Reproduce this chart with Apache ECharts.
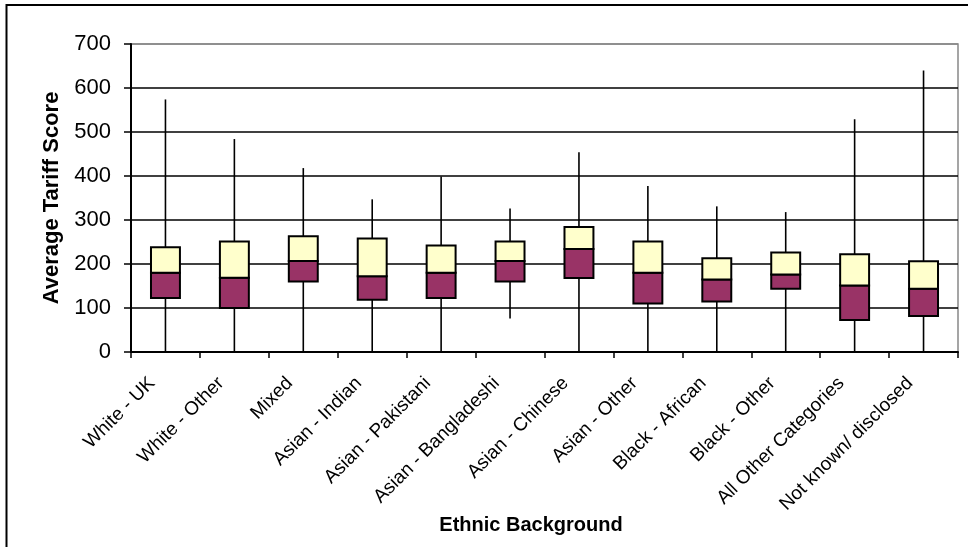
<!DOCTYPE html>
<html>
<head>
<meta charset="utf-8">
<script src="https://cdn.jsdelivr.net/npm/echarts@6/dist/echarts.min.js"></script>
<style>
html,body{margin:0;padding:0;background:#fff;}
#chart{width:968px;height:547px;}
</style>
</head>
<body>
<div id="chart"></div>
<script>
const categories = ['White - UK','White - Other','Mixed','Asian - Indian','Asian - Pakistani','Asian - Bangladeshi','Asian - Chinese','Asian - Other','Black - African','Black - Other','All Other Categories','Not known/ disclosed'];
const minVals    = [0, 0, 0, 0, 0, 76, 0, 0, 0, 0, 0, 0];
const q1Vals     = [123, 100, 160, 119, 123, 160, 168, 110, 115, 144, 73, 82];
const medianVals = [180, 169, 207, 172, 180, 207, 234, 180, 165, 176, 151, 144];
const q3Vals     = [238, 251, 263, 258, 242, 251, 284, 251, 213, 226, 222, 206];
const maxVals    = [574, 484, 418, 347, 399, 326, 454, 377, 331, 318, 529, 640];
const yTicks     = [0, 100, 200, 300, 400, 500, 600, 700];

const FONT = '"Liberation Sans", Arial, sans-serif';
const data = categories.map((c, i) => [i, minVals[i], q1Vals[i], medianVals[i], q3Vals[i], maxVals[i]]);

function renderItem(params, api) {
  const x = api.value(0);
  const pMin = api.coord([x, api.value(1)]);
  const pQ1 = api.coord([x, api.value(2)]);
  const pMed = api.coord([x, api.value(3)]);
  const pQ3 = api.coord([x, api.value(4)]);
  const pMax = api.coord([x, api.value(5)]);
  const w = api.size([1, 0])[0] * 0.42;
  return {
    type: 'group',
    children: [
      { type: 'line', shape: { x1: pMin[0], y1: pMin[1], x2: pMax[0], y2: pMax[1] },
        style: { stroke: '#000', lineWidth: 1.6 } },
      { type: 'rect', shape: { x: pQ1[0] - w / 2, y: pMed[1], width: w, height: pQ1[1] - pMed[1] },
        style: { fill: '#993366', stroke: '#000', lineWidth: 2 } },
      { type: 'rect', shape: { x: pQ3[0] - w / 2, y: pQ3[1], width: w, height: pMed[1] - pQ3[1] },
        style: { fill: '#FFFFCC', stroke: '#000', lineWidth: 2 } }
    ]
  };
}

const chart = echarts.init(document.getElementById('chart'));
chart.setOption({
  animation: false,
  backgroundColor: '#fff',
  grid: { left: 131, right: 10, top: 44, bottom: 195, show: true, borderColor: '#888', borderWidth: 1.5 },
  xAxis: {
    type: 'category',
    data: categories,
    boundaryGap: true,
    axisLine: { lineStyle: { color: '#000', width: 2 } },
    axisTick: { show: true, alignWithLabel: false, length: 6, lineStyle: { color: '#000', width: 1.5 } },
    axisLabel: { interval: 0, rotate: 45, fontSize: 19, color: '#000', fontFamily: FONT, margin: 15, padding: [0, 19, 0, 0] },
    splitLine: { show: false }
  },
  yAxis: {
    type: 'value',
    min: yTicks[0],
    max: yTicks[yTicks.length - 1],
    interval: 100,
    name: 'Average Tariff Score',
    nameLocation: 'middle',
    nameRotate: 90,
    nameGap: 67,
    nameTextStyle: { fontSize: 22, fontWeight: 'bold', color: '#000', fontFamily: FONT },
    axisLine: { show: true, lineStyle: { color: '#000', width: 2 } },
    axisTick: { show: true, length: 7, lineStyle: { color: '#000', width: 1.5 } },
    axisLabel: { fontSize: 22, color: '#000', fontFamily: FONT, margin: 20 },
    splitLine: { show: true, lineStyle: { color: ['#000', '#000', '#000', '#000', '#000', '#000', '#000', '#888'], width: 1.5 } }
  },
  graphic: [
    { type: 'polyline', shape: { points: [[6.5, 547], [6.5, 5], [968, 5]] }, style: { stroke: '#000', lineWidth: 2, fill: null } },
    { type: 'text', x: 531, y: 525, style: { text: 'Ethnic Background', align: 'center', verticalAlign: 'middle', font: 'bold 20px ' + FONT, fill: '#000' } }
  ],
  series: [{
    type: 'custom',
    renderItem: renderItem,
    encode: { x: 0, y: [1, 2, 3, 4, 5] },
    data: data,
    z: 5
  }]
});
</script>
</body>
</html>
